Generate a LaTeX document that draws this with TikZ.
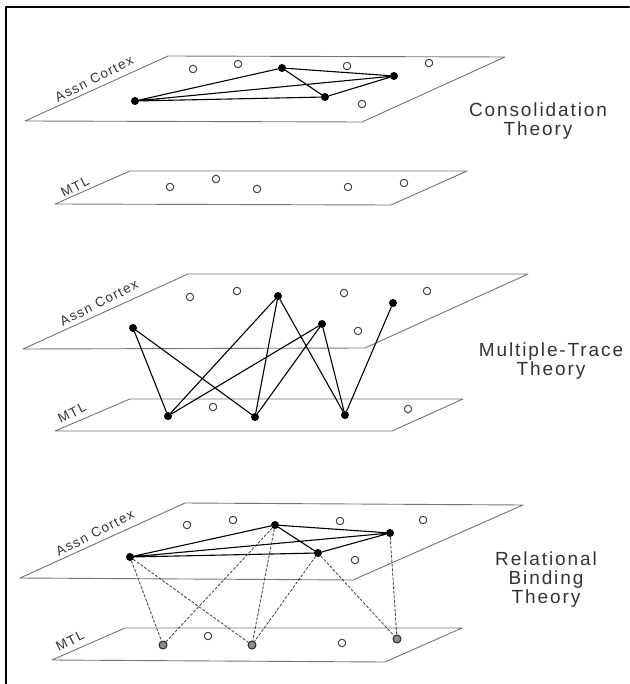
\documentclass[tikz,border=0pt]{standalone}
\usepackage{fontspec}
\setmainfont{Liberation Sans}
\newfontfamily\widefont[LetterSpace=10]{Liberation Sans}
\begin{document}
\begin{tikzpicture}[x=1pt, y=-1pt, line join=round, line cap=round,
	plane/.style={draw=black!55, line width=.9pt},
	odot/.style={circle, draw=black!75, line width=1pt, inner sep=0pt, minimum size=7.5pt},
	fdot/.style={circle, fill=black, inner sep=0pt, minimum size=8pt},
	gdot/.style={circle, fill=black!45, draw=black!85, line width=1pt, inner sep=0pt, minimum size=8pt},
	link/.style={line width=1.1pt},
	bind/.style={line width=.9pt, black!70, dash pattern=on 2.5pt off 2pt},
	layer/.style={font=\widefont\fontsize{13.5}{13.5}\selectfont, text=black!80, rotate=27},
	theory/.style={font=\widefont\fontsize{19}{19}\selectfont, text=black!80, align=center}]
	\useasboundingbox (0,0) rectangle (629,684);
	\draw[line width=2.5pt] (6,684)--(6,7)--(629,7);
	% consolidation theory
	\draw[plane] (25,121)--(168,56)--(505,57)--(362,122)--cycle;
	\draw[plane] (55,204)--(130,171)--(467,171)--(391,205)--cycle;
	\node[layer] (c1) at (94,79) {Assn Cortex};
	\node[layer] (m1) at (75,187) {MTL};
	\foreach \p [count=\i] in {(193,69),(238,64),(347,66),(429,63),(362,104)}
		\node[odot] (ca\i) at \p {};
	\foreach \p [count=\i] in {(170,187),(216,179),(257,189),(348,187),(404,183)}
		\node[odot] (cm\i) at \p {};
	\node[fdot] (a1) at (135,101) {};
	\node[fdot] (a2) at (282,68) {};
	\node[fdot] (a3) at (394,76) {};
	\node[fdot] (a4) at (325,97) {};
	\draw[link] (a1)--(a2) (a1)--(a3) (a1)--(a4) (a2)--(a3) (a2)--(a4) (a4)--(a3);
	\node[theory] (t1) at (538,121) {Consolidation\\Theory};
	% multiple-trace theory
	\draw[plane] (23,349)--(188,274)--(528,274)--(365,348)--cycle;
	\draw[plane] (55,431)--(130,399)--(463,399)--(392,431)--cycle;
	\node[layer] (c2) at (99,303) {Assn Cortex};
	\node[layer] (m2) at (72,413) {MTL};
	\foreach \p [count=\i] in {(190,297),(237,291),(344,293),(427,291),(358,331)}
		\node[odot] (ma\i) at \p {};
	\foreach \p [count=\i] in {(213,407),(408,409)}
		\node[odot] (mm\i) at \p {};
	\node[fdot] (p1) at (133,328) {};
	\node[fdot] (p2) at (278,296) {};
	\node[fdot] (p3) at (322,324) {};
	\node[fdot] (p4) at (393,303) {};
	\node[fdot] (q1) at (168,416) {};
	\node[fdot] (q2) at (255,417) {};
	\node[fdot] (q3) at (345,415) {};
	\draw[link] (p1)--(q1) (p1)--(q2) (p2)--(q1) (p2)--(q2) (p2)--(q3)
		(p3)--(q1) (p3)--(q2) (p3)--(q3) (p4)--(q3);
	\node[theory] (t2) at (551,361) {Multiple-Trace\\Theory};
	% relational binding theory
	\draw[plane] (20,578)--(185,503)--(523,505)--(353,580)--cycle;
	\draw[plane] (52,660)--(125,628)--(462,628)--(385,662)--cycle;
	\node[layer] (c3) at (95,533) {Assn Cortex};
	\node[layer] (m3) at (70,641) {MTL};
	\foreach \p [count=\i] in {(187,525),(233,520),(340,521),(423,520),(355,560)}
		\node[odot] (ra\i) at \p {};
	\foreach \p [count=\i] in {(208,636),(342,643)}
		\node[odot] (rm\i) at \p {};
	\node[fdot] (r1) at (130,557) {};
	\node[fdot] (r2) at (275,525) {};
	\node[fdot] (r3) at (390,533) {};
	\node[fdot] (r4) at (318,553) {};
	\node[gdot] (s1) at (163,645) {};
	\node[gdot] (s2) at (252,645) {};
	\node[gdot] (s3) at (397,639) {};
	\draw[link] (r1)--(r2) (r1)--(r3) (r1)--(r4) (r2)--(r3) (r2)--(r4) (r4)--(r3);
	\draw[bind] (r1)--(s1) (r1)--(s2) (r2)--(s1) (r2)--(s2) (r4)--(s2) (r4)--(s3) (r3)--(s3);
	\node[theory] (t3) at (546,580) {Relational\\Binding\\Theory};
\end{tikzpicture}
\end{document}
